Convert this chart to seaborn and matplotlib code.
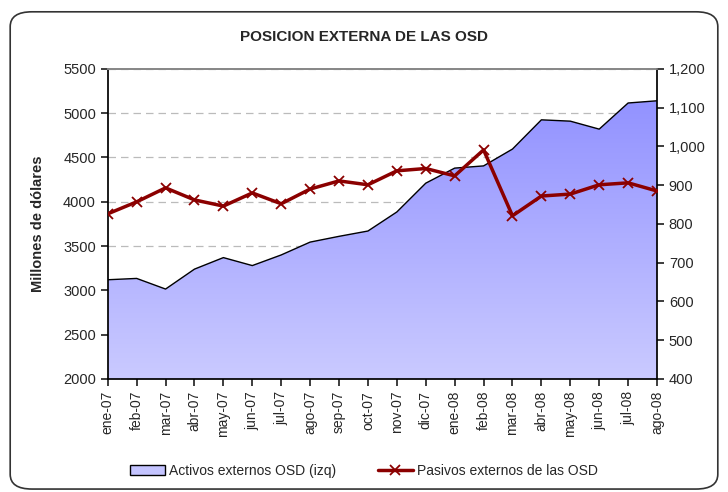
import numpy as np
import pandas as pd
import matplotlib.pyplot as plt
import seaborn as sns
from matplotlib.patches import FancyBboxPatch, Patch
from matplotlib.lines import Line2D
from matplotlib.colors import LinearSegmentedColormap
from matplotlib.ticker import FuncFormatter

sns.set_theme(style="white")
plt.rcParams['font.family'] = ['Liberation Sans', 'DejaVu Sans']

# Data
meses = ['ene-07', 'feb-07', 'mar-07', 'abr-07', 'may-07', 'jun-07', 'jul-07',
         'ago-07', 'sep-07', 'oct-07', 'nov-07', 'dic-07', 'ene-08', 'feb-08',
         'mar-08', 'abr-08', 'may-08', 'jun-08', 'jul-08', 'ago-08']
activos = [3120, 3135, 3015, 3240, 3370, 3280, 3400, 3545, 3610, 3670,
           3885, 4210, 4380, 4405, 4595, 4925, 4910, 4820, 5115, 5140]
pasivos = [826, 857, 893, 862, 846, 880, 852, 890, 911, 901,
           937, 943, 924, 991, 821, 872, 877, 901, 906, 885]

df = pd.DataFrame({'mes': meses, 'activos': activos, 'pasivos': pasivos})
df['x'] = np.arange(len(df))

fig = plt.figure(figsize=(7.28, 4.92), dpi=100)
ax = fig.add_axes([0.148, 0.2297, 0.7545, 0.6303])

# rounded outer border
fig.patches.append(FancyBboxPatch((0.014, 0.006), 0.972, 0.97,
                                  boxstyle="round,pad=0,rounding_size=0.03",
                                  transform=fig.transFigure, fill=False,
                                  edgecolor='#333333', linewidth=1.2))

# area with vertical gradient
ax.set_xlim(0, len(df) - 1)
ax.set_ylim(2000, 5500)
poly = ax.fill_between(df['x'], 2000, df['activos'], facecolor='none',
                       edgecolor='none')
cmap = LinearSegmentedColormap.from_list('grad', ['#CACAFF', '#8C8CFF'])
grad = np.linspace(0, 1, 256).reshape(-1, 1)
img = ax.imshow(grad, cmap=cmap, aspect='auto', origin='lower',
                extent=[0, len(df) - 1, 2000, 5500], zorder=1)
img.set_clip_path(poly.get_paths()[0], transform=ax.transData)
ax.plot(df['x'], df['activos'], color='black', linewidth=1, zorder=2)

ax.set_yticks(range(2000, 5501, 500))
ax.yaxis.grid(True, linestyle=(0, (6, 4)), color='#BBBBBB', linewidth=0.9)
ax.set_axisbelow(True)
ax.set_xticks(df['x'])
ax.set_xticklabels(meses, rotation=90, fontsize=10)
ax.tick_params(axis='y', labelsize=10.5, direction='out', length=5, left=True)
ax.tick_params(axis='x', direction='out', length=5, bottom=True)
ax.set_ylabel('Millones de dólares', fontsize=10.5, fontweight='bold', labelpad=13)
for s in ['left', 'bottom']:
    ax.spines[s].set_color('black')
ax.spines['top'].set_color('#888888')
ax.spines['right'].set_visible(False)

# right axis line
ax2 = ax.twinx()
sns.lineplot(data=df, x='x', y='pasivos', ax=ax2, color='#8B0000',
             linewidth=2.5, marker='x', markersize=7, markeredgewidth=1.3,
             markeredgecolor='#8B0000', zorder=3)
ax2.set_ylim(400, 1200)
ax2.set_yticks(range(400, 1201, 100))
ax2.yaxis.set_major_formatter(FuncFormatter(lambda v, p: f'{int(v):,}'))
ax2.tick_params(axis='y', labelsize=10.5, direction='out', length=5, right=True)
ax2.set_ylabel('')
ax2.set_xlabel('')
ax.set_xlabel('')
ax2.grid(False)
ax2.spines['right'].set_color('black')
ax2.spines['top'].set_color('#888888')
ax2.spines['left'].set_visible(False)
ax2.spines['bottom'].set_visible(False)

fig.suptitle('POSICION EXTERNA DE LAS OSD', y=0.94, fontsize=11,
             fontweight='bold')

handles = [Patch(facecolor='#C4C4FF', edgecolor='black', linewidth=1),
           Line2D([], [], color='#8B0000', linewidth=2.5, marker='x',
                  markersize=7, markeredgewidth=1.3)]
fig.legend(handles, ['Activos externos OSD (izq)', 'Pasivos externos de las OSD'],
           loc='center', bbox_to_anchor=(0.5, 0.043), ncol=2, frameon=False,
           fontsize=10, handlelength=2.5, columnspacing=3, handletextpad=0.3)

fig.savefig('out.png', dpi=100)
